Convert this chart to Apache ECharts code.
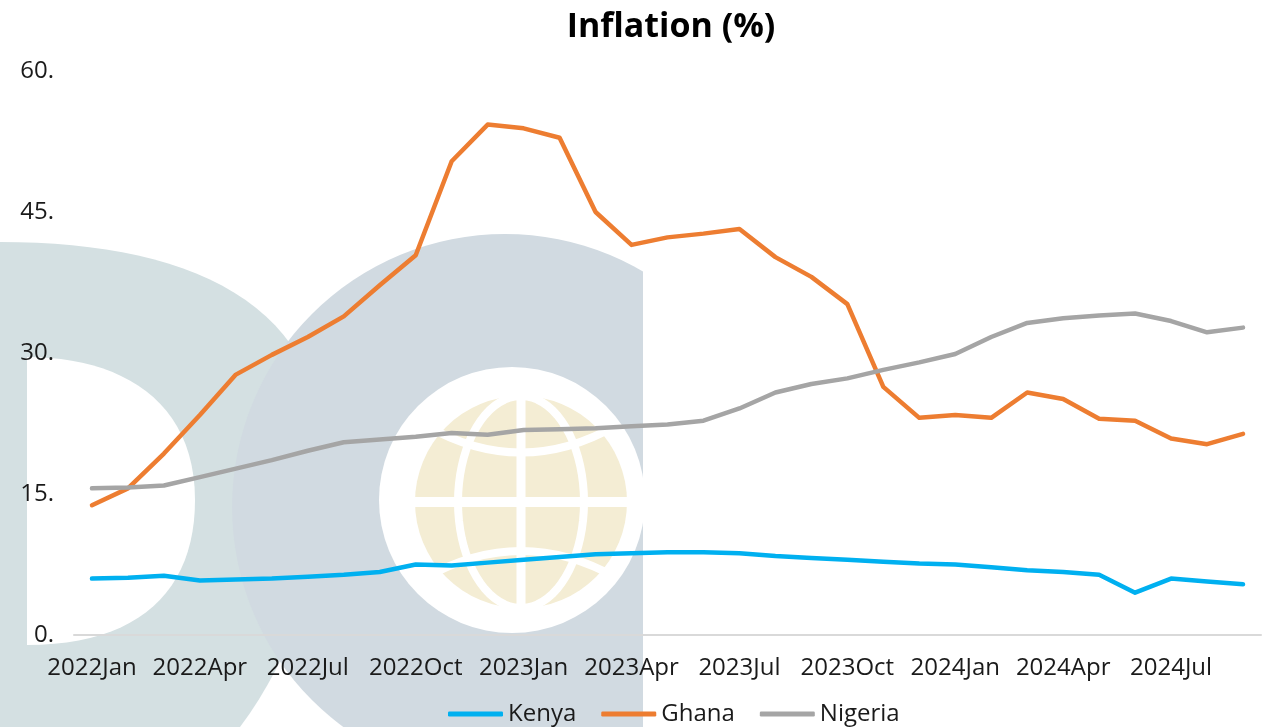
<!DOCTYPE html>
<html>
<head>
<meta charset="utf-8">
<title>Inflation (%)</title>
<script src="https://cdn.jsdelivr.net/npm/echarts@6/dist/echarts.min.js"></script>
<style>
  html, body { margin: 0; padding: 0; background: #fff; }
  #chart { width: 1268px; height: 727px; }
</style>
</head>
<body>
<div id="chart"></div>
<script>
var months = [
  '2022Jan','2022Feb','2022Mar','2022Apr','2022May','2022Jun','2022Jul','2022Aug','2022Sep','2022Oct','2022Nov','2022Dec',
  '2023Jan','2023Feb','2023Mar','2023Apr','2023May','2023Jun','2023Jul','2023Aug','2023Sep','2023Oct','2023Nov','2023Dec',
  '2024Jan','2024Feb','2024Mar','2024Apr','2024May','2024Jun','2024Jul','2024Aug','2024Sep'
];
var kenya = [6.0, 6.1, 6.3, 5.8, 5.9, 6.0, 6.2, 6.4, 6.7, 7.5, 7.4, 7.7, 8.0, 8.3, 8.6, 8.7, 8.8, 8.8, 8.7, 8.4, 8.2, 8.0, 7.8, 7.6, 7.5, 7.2, 6.9, 6.7, 6.4, 4.5, 6.0, 5.7, 5.4];
var ghana = [13.8, 15.6, 19.3, 23.4, 27.7, 29.8, 31.7, 33.9, 37.2, 40.4, 50.4, 54.3, 53.9, 52.9, 45.0, 41.5, 42.3, 42.7, 43.2, 40.2, 38.1, 35.2, 26.4, 23.1, 23.4, 23.1, 25.8, 25.1, 23.0, 22.8, 20.9, 20.3, 21.4];
var nigeria = [15.6, 15.7, 15.9, 16.8, 17.7, 18.6, 19.6, 20.5, 20.8, 21.1, 21.5, 21.3, 21.8, 21.9, 22.0, 22.2, 22.4, 22.8, 24.1, 25.8, 26.7, 27.3, 28.2, 29.0, 29.9, 31.7, 33.2, 33.7, 34.0, 34.2, 33.4, 32.2, 32.7];

var FONT = 'Open Sans';

function lineSeries(name, data, color) {
  return {
    name: name,
    type: 'line',
    data: data,
    symbol: 'none',
    showSymbol: false,
    lineStyle: { color: color, width: 4.5, cap: 'round', join: 'round' },
    itemStyle: { color: color }
  };
}

// sample a cubic bezier into points (for the watermark outline)
function bez(p0, p1, p2, p3) {
  var pts = [];
  for (var i = 0; i <= 24; i++) {
    var t = i / 24, u = 1 - t;
    pts.push([
      u*u*u*p0[0] + 3*u*u*t*p1[0] + 3*u*t*t*p2[0] + t*t*t*p3[0],
      u*u*u*p0[1] + 3*u*u*t*p1[1] + 3*u*t*t*p2[1] + t*t*t*p3[1]
    ]);
  }
  return pts;
}
function ellipsePts(cx, cy, rx, ry) {
  var pts = [];
  for (var i = 0; i < 72; i++) {
    var a = i / 72 * Math.PI * 2;
    pts.push([cx + rx * Math.cos(a), cy + ry * Math.sin(a)]);
  }
  return pts;
}

var dOuter = bez([0, 242], [150, 242], [270, 280], [310, 380])
  .concat(bez([310, 380], [345, 470], [320, 620], [240, 727]))
  .concat([[0, 727]]);
var dInner = bez([27, 357], [120, 357], [195, 400], [195, 500])
  .concat(bez([195, 500], [195, 590], [140, 645], [27, 645]));

// faded logo behind the plot
var watermark = [
  { type: 'polygon', z: -5, shape: { points: dOuter }, style: { fill: '#D4E0E2' } },
  { type: 'polygon', z: -5, shape: { points: dInner }, style: { fill: '#fff' } },
  { type: 'circle', z: -5, shape: { cx: 505, cy: 507, r: 273 }, style: { fill: '#D1DAE1' } },
  { type: 'circle', z: -5, shape: { cx: 512, cy: 500, r: 133 }, style: { fill: '#fff' } },
  { type: 'rect', z: -5, shape: { x: 643, y: 0, width: 700, height: 727 }, style: { fill: '#fff' } },
  { type: 'circle', z: -5, shape: { cx: 521, cy: 502, r: 106 }, style: { fill: '#F4EDD4' } },
  { type: 'polygon', z: -5, shape: { points: ellipsePts(521, 502, 63, 106) }, style: { fill: 'none', stroke: '#fff', lineWidth: 8 } },
  { type: 'line', z: -5, shape: { x1: 521, y1: 390, x2: 521, y2: 615 }, style: { stroke: '#fff', lineWidth: 9 } },
  { type: 'line', z: -5, shape: { x1: 410, y1: 502, x2: 632, y2: 502 }, style: { stroke: '#fff', lineWidth: 10 } },
  { type: 'bezierCurve', z: -5, shape: { x1: 425, y1: 425, x2: 617, y2: 425, cpx1: 521, cpy1: 480 }, style: { fill: 'none', stroke: '#fff', lineWidth: 8 } },
  { type: 'bezierCurve', z: -5, shape: { x1: 425, y1: 578, x2: 617, y2: 578, cpx1: 521, cpy1: 524 }, style: { fill: 'none', stroke: '#fff', lineWidth: 8 } }
];

var myChart = echarts.init(document.getElementById('chart'));
var option = {
  backgroundColor: '#fff',
  animation: false,
  graphic: watermark,
  title: {
    text: 'Inflation (%)',
    left: 666,
    top: 5,
    textAlign: 'center',
    textStyle: { fontFamily: FONT, fontWeight: 'bold', fontSize: 34, color: '#000' }
  },
  legend: {
    top: 697,
    left: 443,
    icon: 'roundRect',
    itemWidth: 55,
    itemHeight: 5,
    itemGap: 25,
    textStyle: { fontFamily: FONT, fontSize: 24, color: '#1a1a1a' },
    data: ['Kenya', 'Ghana', 'Nigeria']
  },
  grid: { left: 74, right: 7, top: 71, bottom: 92 },
  xAxis: {
    type: 'category',
    data: months,
    boundaryGap: true,
    axisLine: { lineStyle: { color: '#D9D9D9', width: 2 } },
    axisTick: { show: false },
    splitLine: { show: false },
    axisLabel: {
      interval: 2,
      margin: 21,
      fontFamily: FONT,
      fontSize: 24,
      color: '#1a1a1a'
    }
  },
  yAxis: {
    type: 'value',
    min: 0,
    max: 60,
    interval: 15,
    axisLine: { show: false },
    axisTick: { show: false },
    splitLine: { show: false },
    axisLabel: {
      margin: 20,
      fontFamily: FONT,
      fontSize: 24,
      color: '#1a1a1a',
      formatter: function (v) { return v + '.'; }
    }
  },
  series: [
    lineSeries('Kenya', kenya, '#00B0F0'),
    lineSeries('Ghana', ghana, '#ED7D31'),
    lineSeries('Nigeria', nigeria, '#A5A5A5')
  ]
};
myChart.setOption(option);
</script>
</body>
</html>
